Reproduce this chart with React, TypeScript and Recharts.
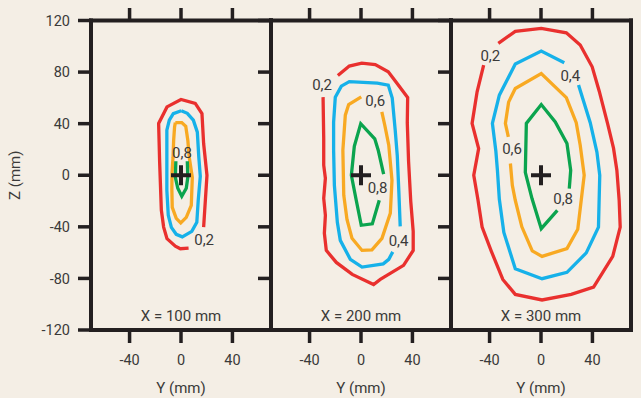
import React from 'react';
import { ScatterChart, Scatter, XAxis, YAxis } from 'recharts';

// axis ticks (mm)
const Y_TICKS = [-40, 0, 40];
const Z_TICKS = [-120, -80, -40, 0, 40, 80, 120];
const PANEL_TITLES = ['X = 100 mm', 'X = 200 mm', 'X = 300 mm'];

// contour lines as [Y, Z] in mm
const P1_02 = [[17.6, -40.2], [20.2, 0], [17.6, 24.6], [16.3, 47.9], [11.1, 55.7], [0, 58.8], [-10.9, 53], [-17.4, 40.2], [-16.6, 10], [-15.3, -27], [-13.5, -40.2], [-10.9, -49.2], [-4.4, -55], [-0.5, -57], [5.9, -56.5]];
const P1_04 = [[0.2, 50], [4.9, 48], [9.6, 42.7], [12.7, 33.4], [13.8, 14.8], [15, -0.8], [13.4, -19.4], [12.3, -36.5], [8.4, -43.5], [1, -47.8], [-3.7, -45.8], [-7.5, -40.4], [-9.9, -31], [-11, -11.7], [-11, 14.8], [-11, 35], [-9.1, 42.7], [-6, 47.8], [0.2, 50]];
const P1_06 = [[-4.4, 40.8], [0.6, 40.8], [3.7, 38], [5.3, 27.2], [6.4, 14], [8.8, -1.6], [8, -23.3], [4.1, -32.6], [-0.2, -36.9], [-3.7, -33.4], [-6.8, -24.9], [-7.1, -11.7], [-7, 1.6], [-6.2, 14], [-5.7, 27.2], [-5, 37.5], [-4.4, 40.8]];
const P1_08 = [[-4, 10.9], [-4.4, -1.6], [-2.5, -10.1], [0.6, -16.3], [4.1, -10.1], [5.3, -1.6], [4.9, 10.9]];

const P2_02 = [[-18, 77.3], [-9.1, 84.7], [0.6, 87], [11.1, 85.8], [21.2, 80.2], [29, 69.9], [36.3, 60.2], [36, 40.8], [37, 10.9], [38.7, -20.2], [40.6, -43.5], [40.6, -58.3], [33.1, -69.9], [15, -80.8], [9.8, -84.7], [-6.8, -76.9], [-19.2, -67.6], [-27, -58.3], [-28.5, -45], [-27.7, -31.1], [-29, -17.9], [-27.7, -2.3], [-29, 7.8], [-29, 28.7], [-29.5, 60.6]];
const P2_04 = [[30.5, -39.6], [29.4, -11.7], [28.2, 15.5], [26.6, 35], [24.3, 59.8], [21.2, 69.9], [12.7, 71.5], [-9.1, 72.6], [-15.3, 69.1], [-20, 60.6], [-21.3, 41.2], [-21.3, 19.4], [-20.7, -7.8], [-18.4, -36.5], [-16.1, -50.5], [-8.3, -65.2], [0.8, -71.2], [17.3, -68.7], [21.6, -65.2], [24.7, -59.4]];
const P2_06 = [[0.2, 60.8], [-9.6, 54.8], [-12.2, 46.6], [-14.1, 19.4], [-13.4, -15.5], [-10.9, -34.2], [-7, -48.9], [0.8, -58.3], [8.5, -57.9], [16.3, -48.9], [22.8, -29.5], [24.1, -3.9], [21.6, 23.3], [18.5, 38.8], [16.2, 49.2]];
const P2_08 = [[17.6, 0.8], [13.4, 19.4], [10.7, 28.3], [-0.2, 40], [-5.2, 22.5], [-7.5, 0], [-3.7, -19.4], [0.2, -38.8], [8.8, -37.7], [14.2, -19.4]];

const P3_02 = [[-33.2, 102.3], [-20, 111.6], [0.2, 113.9], [19.7, 110.4], [30.5, 101], [39.8, 84.1], [45.3, 65.2], [51.9, 39.6], [56.4, 21], [59, 3.9], [60.8, -19.4], [61.6, -40.2], [55.8, -62.9], [40.9, -86.8], [23.5, -92.4], [0.8, -96.7], [-20, -92.4], [-29.7, -80.8], [-38.6, -59], [-45.8, -40.2], [-49.1, -18.6], [-52.3, 0], [-48.5, 20.7], [-53.6, 40.2], [-49.7, 64.7], [-44.6, 85.4]];
const P3_04 = [[18.1, 87.2], [0.2, 96.3], [-20, 86.2], [-32.4, 62.1], [-37.8, 40.2], [-35.1, 18.6], [-33.9, 3.9], [-32.4, -18.6], [-28.9, -44.3], [-20, -72.5], [0.8, -80.2], [20.2, -75.3], [35.2, -60.2], [44.7, -40.2], [45.7, 0], [43.5, 17.9], [38.3, 40.8], [29.2, 69.9]];
const P3_06 = [[-23.8, 9.1], [-22.3, -7.8], [-20, -19.4], [-14.9, -40], [-6.8, -58.6], [0.8, -62.9], [20.2, -56.9], [28.6, -41.9], [33.6, 0], [30.5, 23.3], [27.4, 40.8], [19.7, 60.2], [0.2, 78.8], [-20, 67.3], [-25.2, 56.7], [-27.7, 40.2], [-25.4, 29.7]];
const P3_08 = [[22, -10.3], [23.1, 3.9], [20.2, 24.6], [11.1, 41.4], [0.2, 54.8], [-11.4, 40.2], [-12.2, 2.3], [-7, -18.1], [0.2, -41.4], [12.7, -27.2]];

// contour labels
const P1_LABELS = [{ t: '0,2', x: 18, y: -50.5 }, { t: '0,8', x: 0.8, y: 17 }];
const P2_LABELS = [{ t: '0,2', x: -30.3, y: 70.3 }, { t: '0,6', x: 11.1, y: 57.6 }, { t: '0,8', x: 12.9, y: -9.9 }, { t: '0,4', x: 29.2, y: -51.1 }];
const P3_LABELS = [{ t: '0,2', x: -39.4, y: 92.8 }, { t: '0,4', x: 22.8, y: 77 }, { t: '0,6', x: -22.5, y: 20 }, { t: '0,8', x: 17.2, y: -18.1 }];

const COLORS = ['#e9302e', '#16b1e9', '#f8a922', '#0ba44e'];
const INK = '#231f20';
const TEXT = '#3b3a39';
const FONT = 'Roboto, sans-serif';

const AXIS = { stroke: INK, strokeWidth: 4, strokeLinecap: 'square' as const };
const TICK = { stroke: INK, strokeWidth: 3.5 };

const toPts = (arr: number[][]) => arr.map(([x, y]) => ({ x, y }));
const TOP_MARKS = Y_TICKS.map((x) => ({ x, y: 120 }));
const BOTTOM_MARKS = Y_TICKS.map((x) => ({ x, y: -120 }));

function Panel({ left, leftW, rightW, title, lines, labels, showZ }: any) {
  const plotW = 180;
  return (
    <div style={{ position: 'absolute', left, top: 0 }}>
      <ScatterChart width={leftW + plotW + rightW} height={398} margin={{ top: 0, right: 0, bottom: 0, left: 0 }}>
        <XAxis xAxisId="t" orientation="top" type="number" dataKey="x" domain={[-70, 70]} ticks={Y_TICKS}
          height={20.5} tickLine={false} tickFormatter={() => ''} axisLine={AXIS} />
        <XAxis xAxisId="b" orientation="bottom" type="number" dataKey="x" domain={[-70, 70]} ticks={Y_TICKS}
          height={68} tickSize={13} tickMargin={12} axisLine={AXIS} tickLine={false}
          tick={{ fill: TEXT, fontSize: 14.5, fontFamily: FONT }}
          label={{ value: 'Y (mm)', position: 'insideBottom', offset: 5, fill: TEXT, fontSize: 15, fontFamily: FONT }} />
        <YAxis yAxisId="l" orientation="left" type="number" dataKey="y" domain={[-120, 120]} ticks={Z_TICKS}
          width={leftW} tickSize={13} tickMargin={8} axisLine={AXIS} tickLine={TICK}
          tickFormatter={showZ ? undefined : () => ''}
          tick={{ fill: TEXT, fontSize: 14.5, fontFamily: FONT }}
          label={showZ ? { value: 'Z (mm)', angle: -90, position: 'insideLeft', offset: 15, fill: TEXT, fontSize: 15, fontFamily: FONT, style: { textAnchor: 'middle' } } : undefined} />
        <YAxis yAxisId="r" orientation="right" type="number" dataKey="y" domain={[-120, 120]} ticks={Z_TICKS}
          width={rightW} tickSize={13} tickFormatter={() => ''} axisLine={AXIS} tickLine={TICK} />
        {lines.map((arr: number[][], i: number) => (
          <Scatter key={i} xAxisId="b" yAxisId="l" data={toPts(arr)} fill={COLORS[i]}
            line={{ stroke: COLORS[i], strokeWidth: 3.3, strokeLinejoin: 'miter' }}
            shape={() => <g />} isAnimationActive={false} />
        ))}
        {/* tick marks outside the top and bottom borders */}
        <Scatter xAxisId="b" yAxisId="l" data={TOP_MARKS} isAnimationActive={false}
          shape={(p: any) => <line x1={p.cx} x2={p.cx} y1={p.cy} y2={p.cy - 12.5} stroke={INK} strokeWidth={3.5} />} />
        <Scatter xAxisId="b" yAxisId="l" data={BOTTOM_MARKS} isAnimationActive={false}
          shape={(p: any) => <line x1={p.cx} x2={p.cx} y1={p.cy} y2={p.cy + 13} stroke={INK} strokeWidth={3.5} />} />
        <Scatter xAxisId="b" yAxisId="l" data={[{ x: 0, y: 0 }]} isAnimationActive={false}
          shape={(p: any) => (
            <g stroke={INK} strokeWidth={4}>
              <line x1={p.cx - 10} x2={p.cx + 10} y1={p.cy} y2={p.cy} />
              <line x1={p.cx} x2={p.cx} y1={p.cy - 10} y2={p.cy + 10} />
            </g>
          )} />
        <Scatter xAxisId="b" yAxisId="l" data={[...labels, { t: title, x: 0, y: -109 }]} isAnimationActive={false}
          shape={(p: any) => (
            <text x={p.cx} y={p.cy} textAnchor="middle" dominantBaseline="central"
              fill={TEXT} fontSize={15} fontFamily={FONT}>{p.payload.t}</text>
          )} />
      </ScatterChart>
    </div>
  );
}

export default function App() {
  return (
    <div style={{ position: 'absolute', left: 0, top: 0, width: 641, height: 398, overflow: 'hidden', background: '#f4eee5' }}>
      <Panel left={0} leftW={91} rightW={14} title={PANEL_TITLES[0]} lines={[P1_02, P1_04, P1_06, P1_08]} labels={P1_LABELS} showZ />
      <Panel left={257} leftW={14} rightW={14} title={PANEL_TITLES[1]} lines={[P2_02, P2_04, P2_06, P2_08]} labels={P2_LABELS} />
      <Panel left={437} leftW={14} rightW={10} title={PANEL_TITLES[2]} lines={[P3_02, P3_04, P3_06, P3_08]} labels={P3_LABELS} />
    </div>
  );
}
